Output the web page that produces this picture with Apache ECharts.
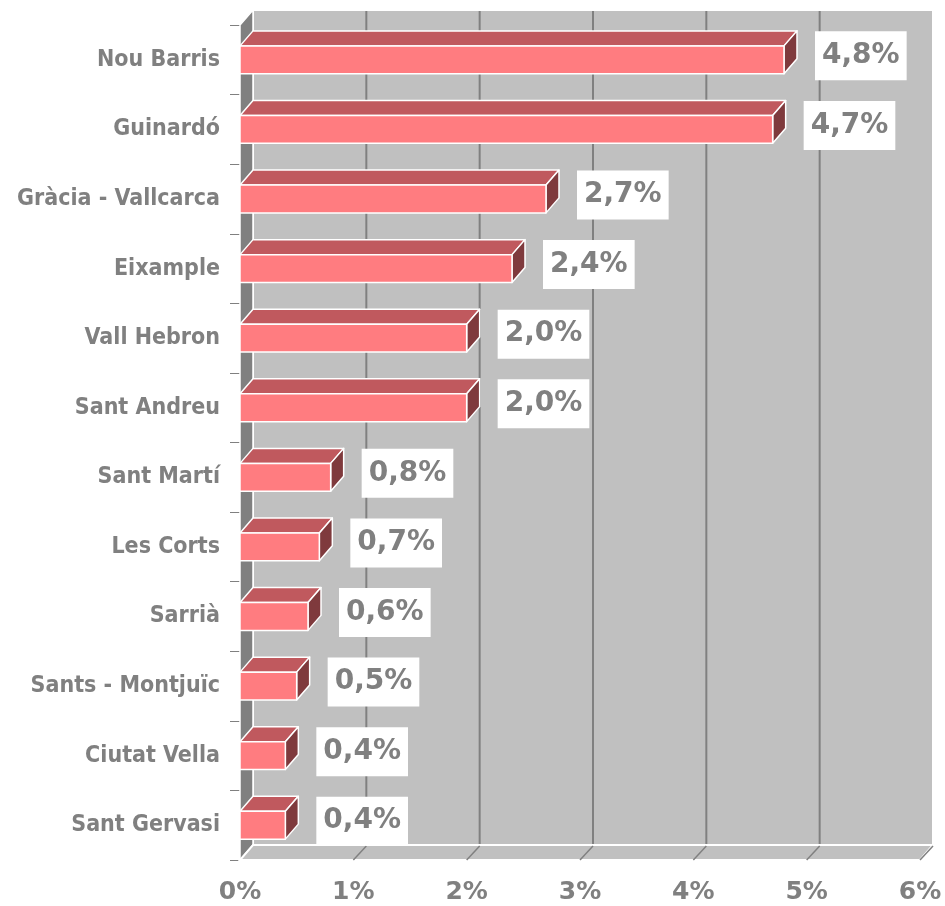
<!DOCTYPE html>
<html>
<head>
<meta charset="utf-8">
<script src="https://cdn.jsdelivr.net/npm/echarts@6/dist/echarts.min.js"></script>
<style>html,body{margin:0;padding:0;background:#fff;}#c{width:945px;height:906px;}</style>
</head>
<body>
<div id="c"></div>
<script>
const categories = ['Nou Barris','Guinardó','Gràcia - Vallcarca','Eixample','Vall Hebron','Sant Andreu','Sant Martí','Les Corts','Sarrià','Sants - Montjuïc','Ciutat Vella','Sant Gervasi'];
const values = [4.8, 4.7, 2.7, 2.4, 2.0, 2.0, 0.8, 0.7, 0.6, 0.5, 0.4, 0.4];
const xTicks = [0, 1, 2, 3, 4, 5, 6];

const DX = 13, DY = -15;
const GRAY = '#808080';
const chart = echarts.init(document.getElementById('c'), null, {renderer: 'canvas'});

function fmt(v){ return v.toFixed(1).replace('.', ',') + '%'; }

const option = {
  animation: false,
  backgroundColor: '#ffffff',
  grid: {left: 240, right: 25, top: 25, bottom: 46, containLabel: false},
  xAxis: {
    type: 'value', min: 0, max: 6, interval: 1,
    axisLine: {show: false}, axisTick: {show: false}, splitLine: {show: false},
    axisLabel: {formatter: '{value}%', color: GRAY, fontFamily: 'DejaVu Sans', fontWeight: 'bold', fontSize: 25, margin: 20}
  },
  yAxis: {
    type: 'category', data: categories, inverse: true,
    axisLine: {show: true, lineStyle: {color: GRAY, width: 1}},
    axisTick: {show: true, length: 10, lineStyle: {color: GRAY}},
    axisLabel: {color: GRAY, fontFamily: "'DejaVu Sans Condensed', 'Liberation Sans', sans-serif", fontWeight: 'bold', fontSize: 23, margin: 20},
    splitLine: {show: false}
  },
  series: [
    {
      type: 'custom', z: 1, silent: true,
      data: [[0, 0]],
      renderItem: function (params, api) {
        const cs = params.coordSys;
        const x0 = cs.x, x1 = cs.x + cs.width, y0 = cs.y, y1 = cs.y + cs.height;
        const children = [];
        children.push({type: 'rect', shape: {x: x0 + DX, y: y0 + DY, width: cs.width, height: cs.height}, style: {fill: '#C0C0C0', stroke: '#ffffff', lineWidth: 2}});
        children.push({type: 'polygon', shape: {points: [[x0, y0], [x0 + DX, y0 + DY], [x0 + DX, y1 + DY], [x0, y1]]}, style: {fill: GRAY, stroke: '#ffffff', lineWidth: 1.5}});
        children.push({type: 'polygon', shape: {points: [[x0, y1], [x1, y1], [x1 + DX, y1 + DY], [x0 + DX, y1 + DY]]}, style: {fill: '#C0C0C0', stroke: '#ffffff', lineWidth: 2}});
        xTicks.forEach(function (t) {
          if (t === 0) return;
          const p = api.coord([t, 0]);
          const px = p[0];
          if (t < xTicks[xTicks.length - 1]) {
            children.push({type: 'line', shape: {x1: px + DX, y1: y0 + DY + 1, x2: px + DX, y2: y1 + DY - 1}, style: {stroke: GRAY, lineWidth: 2}});
          }
          children.push({type: 'line', shape: {x1: px, y1: y1, x2: px + DX, y2: y1 + DY + 1}, style: {stroke: GRAY, lineWidth: 1.5}});
        });
        return {type: 'group', children: children};
      }
    },
    {
      type: 'custom', z: 3, silent: true,
      data: values.map(function (v, i) { return [v, i]; }),
      encode: {x: 0, y: 1},
      renderItem: function (params, api) {
        const v = api.value(0), idx = api.value(1);
        const start = api.coord([0, idx]);
        const end = api.coord([v, idx]);
        const band = api.size([0, 1])[1];
        const h = band * 0.40;
        const yT = start[1] - h / 2, yB = start[1] + h / 2;
        const xs = start[0], xe = end[0];
        const stroke = {stroke: '#ffffff', lineWidth: 1.5, lineJoin: 'round'};
        return {
          type: 'group',
          children: [
            {type: 'polygon', shape: {points: [[xs, yT], [xe, yT], [xe + DX, yT + DY], [xs + DX, yT + DY]]}, style: Object.assign({fill: '#C0595E'}, stroke)},
            {type: 'polygon', shape: {points: [[xe, yT], [xe + DX, yT + DY], [xe + DX, yB + DY], [xe, yB]]}, style: Object.assign({fill: '#7F3A3D'}, stroke)},
            {type: 'rect', shape: {x: xs, y: yT, width: xe - xs, height: h}, style: Object.assign({fill: '#FF7C80'}, stroke)},
            {type: 'text', style: {
              text: fmt(v), x: xe + 31, y: start[1] - 4,
              align: 'left', verticalAlign: 'middle',
              fill: GRAY, font: 'bold 28px "DejaVu Sans"',
              backgroundColor: '#ffffff', padding: [11, 7, 10, 7]
            }}
          ]
        };
      }
    }
  ]
};
chart.setOption(option);
</script>
</body>
</html>
